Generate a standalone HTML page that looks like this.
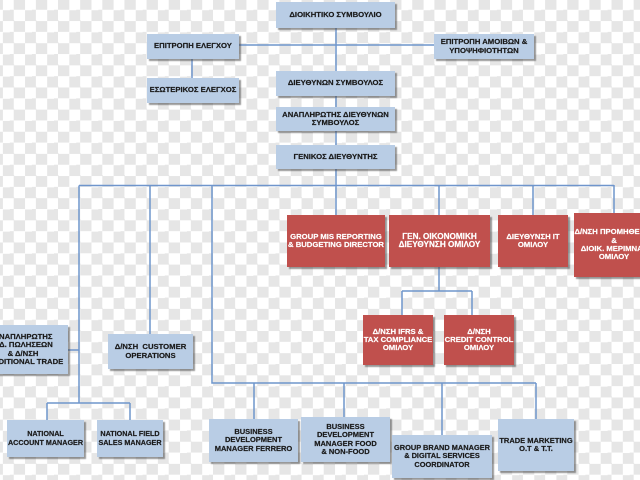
<!DOCTYPE html>
<html><head><meta charset="utf-8">
<style>
html,body{margin:0;padding:0}
body{width:640px;height:480px;overflow:hidden;position:relative;
background:repeating-conic-gradient(#e6e6e6 0 25%,#ffffff 0 50%) 2.92px -1.08px/22.154px 22.154px;
font-family:"Liberation Sans","DejaVu Sans",sans-serif;}
.b{position:absolute;display:flex;align-items:center;justify-content:center;text-align:center;font-weight:bold;font-size:7.7px;line-height:8.3px;white-space:nowrap;box-shadow:2px 2px 1px rgba(70,70,70,.55);overflow:hidden;-webkit-text-stroke:0.2px currentColor}
.bl{background:#b9cde5;color:#1a1a1a;}
.rd{background:#c0504d;color:#fff;font-size:7.7px}
svg{position:absolute;left:0;top:0}
</style></head><body>
<svg width="640" height="480">
<g stroke="#6f95cc" stroke-width="1.5" fill="none">
<path d="M336 28 V215"/>
<path d="M239 45 H434"/>
<path d="M192 59 V78"/>
<path d="M79 185.5 H614"/>
<path d="M79 185.5 V403"/>
<path d="M68 350 H79"/>
<path d="M47 403 H130 M47 403 V420 M130 403 V420"/>
<path d="M150 185 V334"/>
<path d="M212 185 V383 H536"/>
<path d="M254 383 V419 M344 383 V417 M442 383 V435 M536 383 V419"/>
<path d="M439 185 V215 M533 185 V215 M614 185 V213"/>
<path d="M439 267 V291 M402 291 H472 M402 291 V315 M472 291 V315"/>
</g></svg>

<div class="b bl" style="left:276px;top:2px;width:119px;height:26px">ΔΙΟΙΚΗΤΙΚΟ ΣΥΜΒΟΥΛΙΟ</div>
<div class="b bl" style="left:147px;top:34px;width:92px;height:25px">ΕΠΙΤΡΟΠΗ ΕΛΕΓΧΟΥ</div>
<div class="b bl" style="left:147px;top:78px;width:92px;height:25px">ΕΣΩΤΕΡΙΚΟΣ ΕΛΕΓΧΟΣ</div>
<div class="b bl" style="left:276px;top:71px;width:119px;height:25px">ΔΙΕΥΘΥΝΩΝ ΣΥΜΒΟΥΛΟΣ</div>
<div class="b bl" style="left:276px;top:107px;width:119px;height:24px">ΑΝΑΠΛΗΡΩΤΗΣ ΔΙΕΥΘΥΝΩΝ<br>ΣΥΜΒΟΥΛΟΣ</div>
<div class="b bl" style="left:276px;top:145px;width:119px;height:24px">ΓΕΝΙΚΟΣ ΔΙΕΥΘΥΝΤΗΣ</div>
<div class="b bl" style="left:434px;top:34px;width:100px;height:25px">ΕΠΙΤΡΟΠΗ ΑΜΟΙΒΩΝ &amp;<br>ΥΠΟΨΗΦΙΟΤΗΤΩΝ</div>

<div class="b bl" style="left:-22px;top:325px;width:90px;height:49px">ΑΝΑΠΛΗΡΩΤΗΣ<br>Γ.Δ. ΠΩΛΗΣΕΩΝ<br>&amp; Δ/ΝΣΗ<br>TRADITIONAL TRADE</div>
<div class="b bl" style="left:108px;top:334px;width:85px;height:35px">Δ/ΝΣΗ&nbsp; CUSTOMER<br>OPERATIONS</div>

<div class="b bl" style="left:7px;top:420px;width:77px;height:37px;font-size:7.2px">NATIONAL<br>ACCOUNT MANAGER</div>
<div class="b bl" style="left:97px;top:420px;width:66px;height:37px;font-size:7.2px">NATIONAL FIELD<br>SALES MANAGER</div>

<div class="b bl" style="left:209px;top:419px;width:89px;height:43px;font-size:7.5px">BUSINESS<br>DEVELOPMENT<br>MANAGER FERRERO</div>
<div class="b bl" style="left:301px;top:417px;width:89px;height:45px;font-size:7.5px">BUSINESS<br>DEVELOPMENT<br>MANAGER FOOD<br>&amp; NON-FOOD</div>
<div class="b bl" style="left:392px;top:435px;width:100px;height:43px;font-size:7.4px">GROUP BRAND MANAGER<br>&amp; DIGITAL SERVICES<br>COORDINATOR</div>
<div class="b bl" style="left:498px;top:419px;width:76px;height:52px;font-size:7.5px">TRADE MARKETING<br>O.T &amp; T.T.</div>

<div class="b rd" style="left:287px;top:215px;width:98px;height:52px">GROUP MIS REPORTING<br>&amp; BUDGETING DIRECTOR</div>
<div class="b rd" style="left:389px;top:215px;width:101px;height:52px;font-size:8.2px">ΓΕΝ. ΟΙΚΟΝΟΜΙΚΗ<br>ΔΙΕΥΘΥΝΣΗ ΟΜΙΛΟΥ</div>
<div class="b rd" style="left:498px;top:215px;width:70px;height:52px">ΔΙΕΥΘΥΝΣΗ IT<br>ΟΜΙΛΟΥ</div>
<div class="b rd" style="left:574px;top:213px;width:80px;height:64px">Δ/ΝΣΗ ΠΡΟΜΗΘΕΙΩΝ<br>&amp;<br>ΔΙΟΙΚ. ΜΕΡΙΜΝΑΣ<br>ΟΜΙΛΟΥ</div>

<div class="b rd" style="left:363px;top:315px;width:70px;height:50px">Δ/ΝΣΗ IFRS &amp;<br>TAX COMPLIANCE<br>ΟΜΙΛΟΥ</div>
<div class="b rd" style="left:444px;top:315px;width:70px;height:50px">Δ/ΝΣΗ<br>CREDIT CONTROL<br>ΟΜΙΛΟΥ</div>
</body></html>
